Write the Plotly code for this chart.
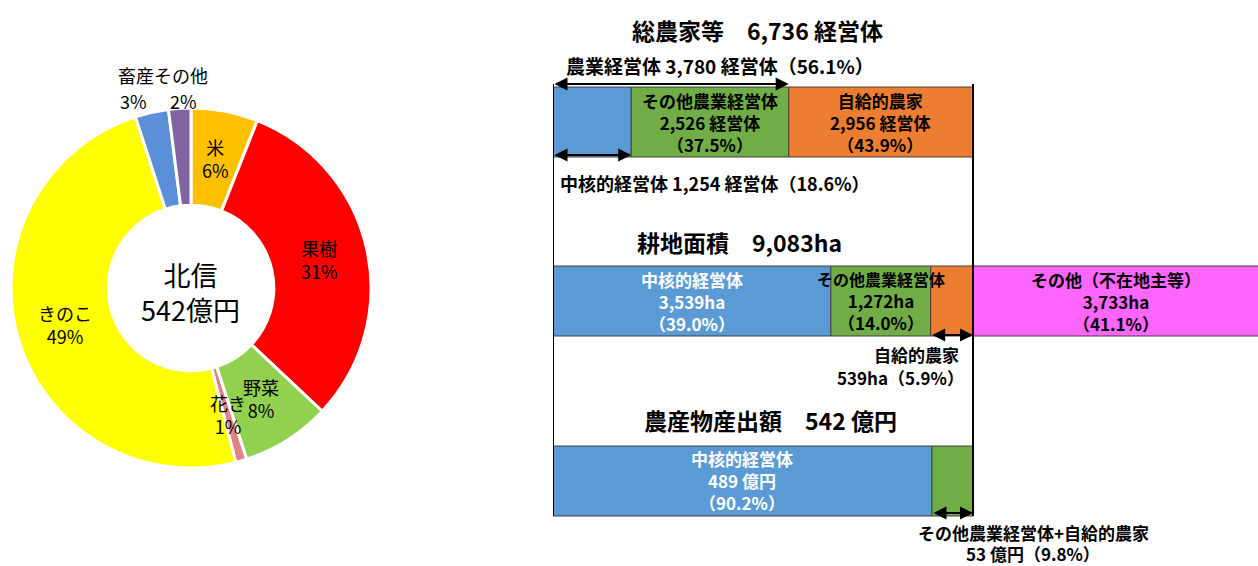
import math
import plotly.graph_objects as go

FONT = "Noto Sans CJK JP"
W, H = 1258, 566

# 北信地域 農業産出額の品目別構成比（%）
crop_names = ["米", "果樹", "野菜", "花き", "きのこ", "畜産", "その他"]
crop_shares = [6, 31, 8, 1, 49, 3, 2]
crop_colors = ["#FFC000", "#FF0000", "#92D050", "#E08283", "#FFFF00", "#5B8FD9", "#8064A2"]
region_name = "北信"
region_output = 542  # 億円

# 総農家等（経営体）
farm_labels = ["中核的経営体", "その他農業経営体", "自給的農家"]
farm_counts = [1254, 2526, 2956]
# 耕地面積（ha）
area_labels = ["中核的経営体", "その他農業経営体", "自給的農家", "その他（不在地主等）"]
area_values = [3539, 1272, 539, 3733]
# 農産物産出額（億円）
output_labels = ["中核的経営体", "その他農業経営体+自給的農家"]
output_values = [489, 53]

BLUE, GREEN, ORANGE, MAGENTA = "#5B9BD5", "#70AD47", "#ED7D31", "#FF66FF"


def px(x):
    return x / W


def py(y):
    return 1 - y / H


fig = go.Figure()
annotations = []
shapes = []


def note(**kw):
    kw.setdefault("showarrow", False)
    kw.setdefault("xanchor", "center")
    kw.setdefault("yanchor", "middle")
    annotations.append(kw)


# ---- donut ----
CX, CY, R = 191, 288, 180
HOLE = 0.46
fig.add_trace(go.Pie(
    labels=crop_names, values=crop_shares, hole=HOLE, sort=False,
    direction="clockwise", rotation=0, textinfo="none", hoverinfo="label+percent",
    marker=dict(colors=crop_colors, line=dict(color="white", width=3)),
    domain=dict(x=[px(CX - R), px(CX + R)], y=[py(CY + R), py(CY - R)]),
    showlegend=False,
))

pie_font = dict(family=FONT, size=18, color="black")
total_share = sum(crop_shares)
cum = 0
label_r = R * (1 + HOLE) / 2
for name, share in zip(crop_names, crop_shares):
    mid = (cum + share / 2) / total_share * 2 * math.pi
    cum += share
    if name in ("畜産", "その他"):
        continue
    lx = CX + label_r * math.sin(mid)
    ly = CY - label_r * math.cos(mid)
    note(x=px(lx), y=py(ly), xref="paper", yref="paper",
         text=f"{name}<br>{share}%", font=pie_font)

# small slices labelled above the ring
note(x=px(163), y=py(75), xref="paper", yref="paper",
     text=crop_names[5] + crop_names[6], font=pie_font)
note(x=px(133), y=py(101), xref="paper", yref="paper",
     text=f"{crop_shares[5]}%", font=pie_font)
note(x=px(183), y=py(101), xref="paper", yref="paper",
     text=f"{crop_shares[6]}%", font=pie_font)

note(x=px(CX), y=py(CY + 4), xref="paper", yref="paper",
     text=f"{region_name}<br>{region_output}億円",
     font=dict(family=FONT, size=27, color="black"))

# ---- proportional bars ----
X0, X1, XR = 553, 973, 1258   # frame left, frame right, plot right (px)
PAD = 8                       # room above/below each bar for the arrows
rows = [
    dict(vals=farm_counts, colors=[BLUE, GREEN, ORANGE], top=87, bot=157,
         main=sum(farm_counts)),
    dict(vals=area_values, colors=[BLUE, GREEN, ORANGE, MAGENTA], top=266, bot=336,
         main=sum(area_values[:3])),
    dict(vals=output_values, colors=[BLUE, GREEN], top=446, bot=516,
         main=sum(output_values)),
]

layout_axes = {}
for i, row in enumerate(rows):
    k = i + 2
    vals = row["vals"]
    starts = [sum(vals[:j]) for j in range(len(vals))]
    row["starts"] = starts
    row["xmax"] = row["main"] * (XR - X0) / (X1 - X0)
    h = row["bot"] - row["top"]
    pad = PAD / h
    fig.add_trace(go.Bar(
        x=vals, base=starts, y=[0] * len(vals), orientation="h", width=1,
        marker=dict(color=row["colors"], line=dict(color="#404040", width=1)),
        xaxis=f"x{k}", yaxis=f"y{k}", hoverinfo="skip", showlegend=False,
    ))
    layout_axes[f"xaxis{k}"] = dict(domain=[px(X0), 1], range=[0, row["xmax"]],
                                    visible=False, anchor=f"y{k}", fixedrange=True)
    layout_axes[f"yaxis{k}"] = dict(domain=[py(row["bot"] + PAD), py(row["top"] - PAD)],
                                    range=[-0.5 - pad, 0.5 + pad], visible=False,
                                    anchor=f"x{k}", fixedrange=True)


def row_y(row, ypx):
    return 0.5 - (ypx - row["top"]) / (row["bot"] - row["top"])


def arrow(k, row, xa, xb, ypx):
    yy = row_y(row, ypx)
    annotations.append(dict(
        x=xb, y=yy, ax=xa, ay=yy, xref=f"x{k}", yref=f"y{k}", axref=f"x{k}", ayref=f"y{k}",
        text="", showarrow=True, arrowhead=2, arrowside="end+start",
        arrowsize=1.3, arrowwidth=2, arrowcolor="black",
    ))


def bar_label(k, xc, lines, color, size=17):
    note(x=xc, y=0, xref=f"x{k}", yref=f"y{k}", text="<br>".join(lines),
         font=dict(family=FONT, size=size, color=color, weight="bold"))


def free_text(xpx, ypx, text, size=18, anchor="center"):
    note(x=px(xpx), y=py(ypx), xref="paper", yref="paper", text=text, xanchor=anchor,
         font=dict(family=FONT, size=size, color="black", weight="bold"))


def pct(v, t):
    return f"{v / t * 100:.1f}%"


# row 1: farms
r1 = rows[0]
farm_total = sum(farm_counts)
agri = farm_counts[0] + farm_counts[1]
free_text(757, 30, f"総農家等　{farm_total:,} 経営体", size=23)
free_text(720, 65, f"農業経営体 {agri:,} 経営体（{pct(agri, farm_total)}）", size=19)
arrow(2, r1, 0, agri, 84)
arrow(2, r1, 0, farm_counts[0], 155)
free_text(715, 183, f"{farm_labels[0]} {farm_counts[0]:,} 経営体（{pct(farm_counts[0], farm_total)}）")
for j in (1, 2):
    v = farm_counts[j]
    bar_label(2, r1["starts"][j] + v / 2,
              [farm_labels[j], f"{v:,} 経営体", f"（{pct(v, farm_total)}）"], "black")

# row 2: cultivated area
r2 = rows[1]
area_total = sum(area_values)
free_text(739, 242, f"耕地面積　{area_total:,}ha", size=23)
bar_label(3, r2["starts"][0] + area_values[0] / 2,
          [area_labels[0], f"{area_values[0]:,}ha", f"（{pct(area_values[0], area_total)}）"],
          "white")
bar_label(3, r2["starts"][1] + area_values[1] / 2,
          [f"<span style='font-size:16px'>{area_labels[1]}</span>", f"{area_values[1]:,}ha",
           f"（{pct(area_values[1], area_total)}）"], "black")
bar_label(3, (r2["starts"][3] + r2["xmax"]) / 2,
          [area_labels[3], f"{area_values[3]:,}ha", f"（{pct(area_values[3], area_total)}）"],
          "black")
arrow(3, r2, r2["starts"][2], r2["main"], 335)
free_text(961, 354, area_labels[2], size=17, anchor="right")
free_text(966, 377, f"{area_values[2]}ha（{pct(area_values[2], area_total)}）", size=17,
          anchor="right")

# row 3: agricultural output
r3 = rows[2]
out_total = sum(output_values)
free_text(770, 420, f"農産物産出額　{out_total} 億円", size=23)
bar_label(4, output_values[0] / 2,
          [output_labels[0], f"{output_values[0]} 億円", f"（{pct(output_values[0], out_total)}）"],
          "white")
arrow(4, r3, output_values[0], out_total, 513)
free_text(1033, 532, output_labels[1], size=17)
free_text(1033, 553, f"{output_values[1]} 億円（{pct(output_values[1], out_total)}）", size=17)

# frame lines
for xv in (0, r1["main"]):
    shapes.append(dict(type="line", xref="x2", yref="paper", x0=xv, x1=xv,
                       y0=py(516), y1=py(84), line=dict(color="black", width=2), layer="above"))

fig.update_layout(
    width=W, height=H, margin=dict(l=0, r=0, t=0, b=0),
    paper_bgcolor="white", plot_bgcolor="rgba(0,0,0,0)",
    barmode="overlay", annotations=annotations, shapes=shapes,
    font=dict(family=FONT), **layout_axes,
)
fig.write_html("out.html")
